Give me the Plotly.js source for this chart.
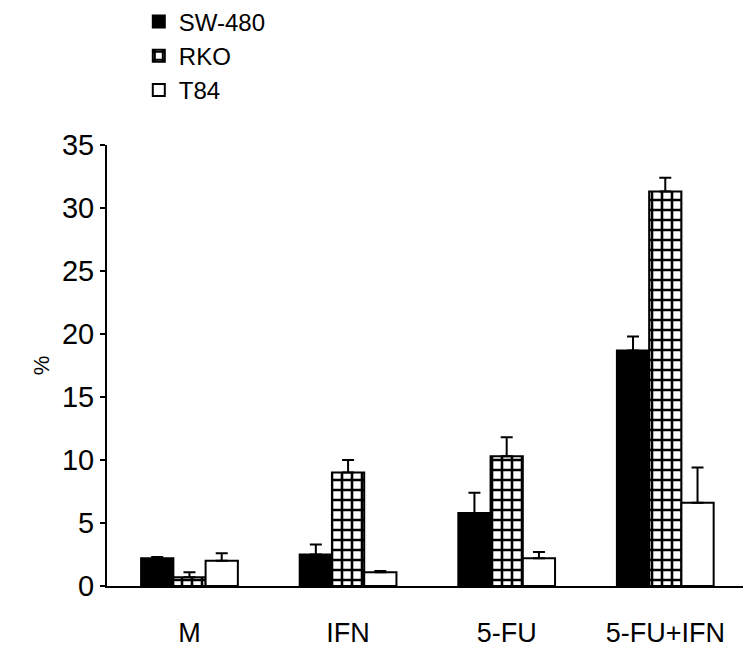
<!DOCTYPE html>
<html>
<head>
<meta charset="utf-8">
<script src="https://cdn.plot.ly/plotly-3.0.1.min.js"></script>
<style>html,body{margin:0;padding:0;background:#fff;}#chart{width:755px;height:656px;}</style>
</head>
<body>
<div id="chart"></div>
<script>
const categories = ["M", "IFN", "5-FU", "5-FU+IFN"];
const seriesNames = ["SW-480", "RKO", "T84"];
const sw480 = [2.2, 2.5, 5.8, 18.7];
const sw480Err = [0.1, 0.8, 1.6, 1.1];
const rko = [0.7, 9.0, 10.3, 31.3];
const rkoErr = [0.4, 1.0, 1.5, 1.1];
const t84 = [2.0, 1.1, 2.2, 6.6];
const t84Err = [0.6, 0.1, 0.5, 2.8];
const yTicks = [0, 5, 10, 15, 20, 25, 30, 35];

const FONT = "Liberation Sans, Arial, sans-serif";

function err(arr) {
  return {type: "data", array: arr, arrayminus: arr.map(() => 0), symmetric: false,
          color: "#000", thickness: 2, width: 6, visible: true};
}

const traces = [
  {type: "bar", name: seriesNames[0], x: categories, y: sw480, error_y: err(sw480Err),
   marker: {color: "#000", line: {color: "#000", width: 2}}},
  {type: "bar", name: seriesNames[1], x: categories, y: rko, error_y: err(rkoErr),
   marker: {color: "#fff", line: {color: "#000", width: 2},
            pattern: {shape: "+", fgcolor: "#000", bgcolor: "#fff", size: 10, solidity: 0.45}}},
  {type: "bar", name: seriesNames[2], x: categories, y: t84, error_y: err(t84Err),
   marker: {color: "#fff", line: {color: "#000", width: 2}}}
];

const layout = {
  width: 755, height: 656,
  margin: {l: 107, r: 12, t: 145, b: 70, autoexpand: false},
  paper_bgcolor: "#fff", plot_bgcolor: "#fff",
  barmode: "group", bargap: 0.39, bargroupgap: 0,
  font: {family: FONT, color: "#000", size: 26},
  showlegend: true,
  legend: {x: 0.05, y: 1.33, xanchor: "left", yanchor: "top",
           font: {family: FONT, size: 24, color: "#000"}, tracegroupgap: 0,
           bgcolor: "rgba(0,0,0,0)"},
  xaxis: {type: "category", range: [-0.52, 3.49], showline: true, linecolor: "#000", linewidth: 2,
          ticks: "", showgrid: false, zeroline: false, ticklabelstandoff: 22,
          tickfont: {family: FONT, size: 27, color: "#000"}},
  yaxis: {range: [0, 35], tickvals: yTicks, ticktext: yTicks.map(String),
          showline: true, linecolor: "#000", linewidth: 2,
          ticks: "outside", ticklen: 5, tickwidth: 2, tickcolor: "#000",
          showgrid: false, zeroline: false,
          tickfont: {family: FONT, size: 29, color: "#000"},
          title: {text: "%", font: {family: FONT, size: 22, color: "#000"}, standoff: 6}}
};

Plotly.newPlot("chart", traces, layout, {displayModeBar: false, staticPlot: true});
</script>
</body>
</html>
